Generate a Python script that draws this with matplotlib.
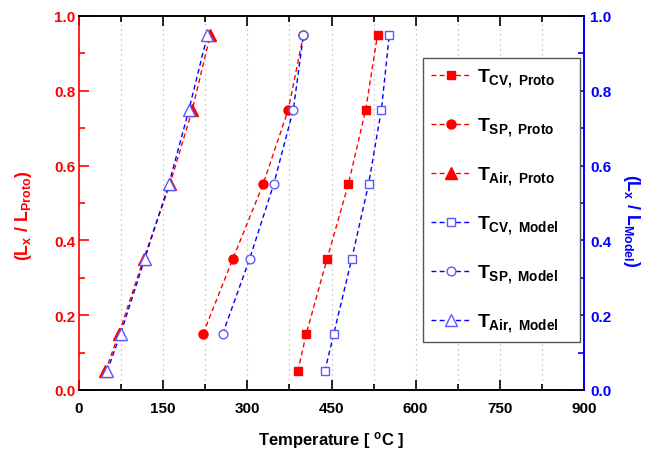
import matplotlib
matplotlib.use('Agg')
import matplotlib.pyplot as plt
from matplotlib.ticker import MultipleLocator, FormatStrFormatter

plt.rcParams['font.family'] = ['Liberation Sans', 'DejaVu Sans']
plt.rcParams['font.weight'] = 'bold'
plt.rcParams['mathtext.fontset'] = 'custom'
plt.rcParams['mathtext.rm'] = 'Liberation Sans:bold'
plt.rcParams['mathtext.it'] = 'Liberation Sans:bold'
plt.rcParams['mathtext.bf'] = 'Liberation Sans:bold'
plt.rcParams['mathtext.sf'] = 'Liberation Sans:bold'

# Dimensionless height (L_x / L) of each measuring station
height_all = [0.05, 0.15, 0.35, 0.55, 0.75, 0.95]
height_sp = [0.15, 0.35, 0.55, 0.75, 0.95]

# Temperatures in deg C
t_cv_proto = [390, 405, 442, 480, 511, 532]
t_sp_proto = [221, 274, 328, 373, 400]
t_air_proto = [47, 71, 115, 162, 202, 234]
t_cv_model = [438, 454, 486, 516, 539, 553]
t_sp_model = [256, 304, 347, 382, 400]
t_air_model = [50, 74, 117, 160, 196, 229]

labels = [r'$T_{CV,\ Proto}$', r'$T_{SP,\ Proto}$', r'$T_{Air,\ Proto}$',
          r'$T_{CV,\ Model}$', r'$T_{SP,\ Model}$', r'$T_{Air,\ Model}$']

RED = '#ff0000'
BLUE = '#0000ff'
BLUE_MK = '#5a5aff'

fig = plt.figure(figsize=(6.49, 4.56), dpi=100)
ax = fig.add_axes([79 / 649, (456 - 391) / 456, 505 / 649, 374 / 456])
ax2 = ax.twinx()

dash = (3.5, 2.4)
red_kw = dict(color=RED, lw=1.0, dashes=dash, mec=RED, mfc=RED)
blue_kw = dict(color=BLUE, lw=1.0, dashes=dash, mec=BLUE_MK, mfc='white', mew=1.0)

h1, = ax.plot(t_cv_proto, height_all, marker='s', ms=6.1, label=labels[0], **red_kw)
h2, = ax.plot(t_sp_proto, height_sp, marker='o', ms=6.5, label=labels[1], **red_kw)
h3, = ax.plot(t_air_proto, height_all, marker='^', ms=8, label=labels[2], **red_kw)
h4, = ax.plot(t_cv_model, height_all, marker='s', ms=5.6, label=labels[3], **blue_kw)
h5, = ax.plot(t_sp_model, height_sp, marker='o', ms=6.3, label=labels[4], **blue_kw)
h6, = ax.plot(t_air_model, height_all, marker='^', ms=8, label=labels[5], **blue_kw)

ax.set_xlim(0, 900)
ax.set_ylim(0, 1.0)
ax2.set_ylim(0, 1.0)

ax.xaxis.set_major_locator(MultipleLocator(150))
ax.xaxis.set_minor_locator(MultipleLocator(75))
ax.yaxis.set_major_locator(MultipleLocator(0.2))
ax.yaxis.set_minor_locator(MultipleLocator(0.1))
ax2.yaxis.set_major_locator(MultipleLocator(0.2))
ax2.yaxis.set_minor_locator(MultipleLocator(0.1))
ax.yaxis.set_major_formatter(FormatStrFormatter('%.1f'))
ax2.yaxis.set_major_formatter(FormatStrFormatter('%.1f'))

ax.grid(axis='x', which='both', ls=(0, (1, 3)), color='#b5b5b5', lw=0.9)

ax.tick_params(axis='x', which='both', direction='in', top=True, bottom=True,
               labelsize=11, colors='black', width=1.2, pad=8)
ax.tick_params(axis='x', which='major', length=7)
ax.tick_params(axis='x', which='minor', length=4)
ax.tick_params(axis='y', which='both', direction='in', left=True, right=False,
               labelsize=11, colors=RED, width=1.2, pad=2.5)
ax.tick_params(axis='y', which='major', length=7)
ax.tick_params(axis='y', which='minor', length=4)
ax2.tick_params(axis='y', which='both', direction='in', right=True, left=False,
                labelsize=11, colors=BLUE, width=1.2, pad=4.5)
ax2.tick_params(axis='y', which='major', length=7)
ax2.tick_params(axis='y', which='minor', length=4)

for a in (ax, ax2):
    a.spines['left'].set_color(RED)
    a.spines['right'].set_color(BLUE)
    a.spines['top'].set_color('black')
    a.spines['bottom'].set_color('black')
    for s in a.spines.values():
        s.set_linewidth(1.2)
ax2.spines['left'].set_visible(False)

for lab in ax.get_xticklabels() + ax.get_yticklabels() + ax2.get_yticklabels():
    lab.set_fontweight('bold')

ax.set_xlabel(r'Temperature [ $^{o}$C ]', fontsize=12, fontweight='bold', labelpad=10)
ax.set_ylabel(r'$(L_x\ /\ L_{Proto})$', fontsize=12.8, color=RED,
              rotation=90, va='center', ha='center')
ax.yaxis.set_label_coords(-0.109, 0.468)
ax2.set_ylabel(r'$(L_x\ /\ L_{Model})$', fontsize=12.8, color=BLUE,
               rotation=270, va='center', ha='center')
ax2.yaxis.set_label_coords(1.095, 0.455)

leg = ax2.legend(handles=[h1, h2, h3, h4, h5, h6], loc='upper left',
                 bbox_to_anchor=(0.681, 0.0, 0.311, 0.887), mode='expand',
                 borderaxespad=0.0, fontsize=14, labelspacing=1.34,
                 handlelength=2.0, handletextpad=0.35, borderpad=0.42,
                 fancybox=False, framealpha=1.0, edgecolor='#555555')
leg.get_frame().set_linewidth(1.0)

fig.savefig('out.png', dpi=100)
